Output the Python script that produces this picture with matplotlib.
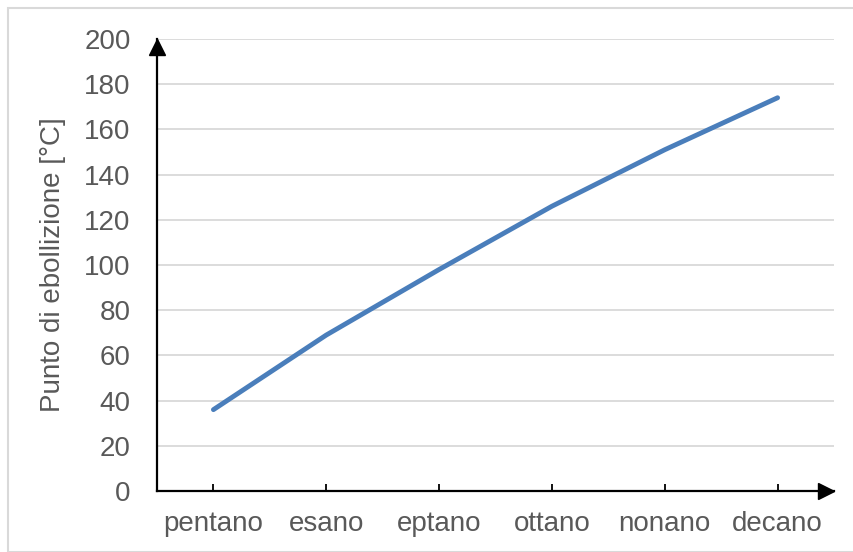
import matplotlib.pyplot as plt
from matplotlib.patches import Rectangle
from matplotlib.transforms import ScaledTranslation

# boiling points of linear alkanes
alcani = ['pentano', 'esano', 'eptano', 'ottano', 'nonano', 'decano']
ebollizione = [36, 69, 98, 126, 151, 174]
yticks = [0, 20, 40, 60, 80, 100, 120, 140, 160, 180, 200]

plt.rcParams['font.family'] = ['Liberation Sans', 'DejaVu Sans']

W, H = 854, 552
fig = plt.figure(figsize=(W / 100, H / 100), dpi=100)
fig.patches.append(Rectangle((8 / W, 0), 1, 1 - 8 / H, transform=fig.transFigure,
                             fill=False, edgecolor='#d9d9d9', linewidth=1.5))

ax = fig.add_axes([157 / W, 61 / H, (834 - 157) / W, (491 - 39) / H])
x = range(len(alcani))
ax.plot(x, ebollizione, color='#4a7ebb', linewidth=3.5, solid_capstyle='round', zorder=3)

ax.set_xlim(-0.5, len(alcani) - 0.5)
ax.set_ylim(0, 200)
ax.set_yticks(yticks)
ax.set_xticks(list(x))
ax.set_xticklabels(alcani)

ax.grid(axis='y', color='#d9d9d9', linewidth=1.3)
ax.set_axisbelow(True)
for s in ['top', 'right']:
    ax.spines[s].set_visible(False)
for s in ['left', 'bottom']:
    ax.spines[s].set_linewidth(1.6)
    ax.spines[s].set_color('black')

ax.tick_params(axis='y', length=0, pad=19, labelsize=20, labelcolor='#595959')
ax.tick_params(axis='x', direction='in', length=5, width=1.3, pad=14.5,
               labelsize=20, labelcolor='#595959')

# arrow heads at the ends of the axes, tip on the axis end
dpi = fig.dpi_scale_trans
ax.plot(1, 0, '>', color='black', markersize=12, clip_on=False,
        transform=ax.transAxes + ScaledTranslation(-0.08, 0, dpi))
ax.plot(0, 1, '^', color='black', markersize=12, clip_on=False,
        transform=ax.transAxes + ScaledTranslation(0, -0.08, dpi))

ax.set_ylabel('Punto di ebollizione [°C]', fontsize=20, color='#595959')
ax.yaxis.set_label_coords(-91 / (834 - 157), 0.5)

fig.savefig('out.png', dpi=100)
